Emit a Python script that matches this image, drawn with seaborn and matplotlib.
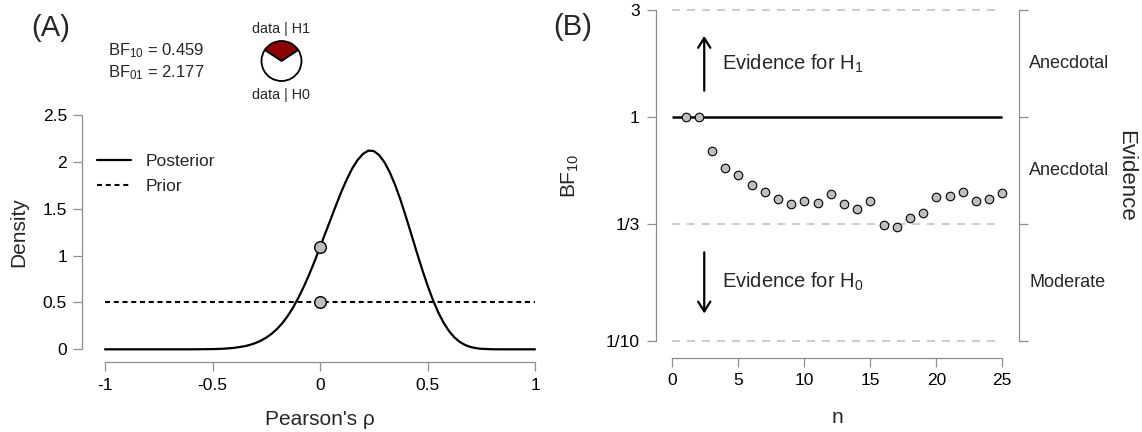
import numpy as np
import pandas as pd
import matplotlib
matplotlib.use("Agg")
import matplotlib.pyplot as plt
import matplotlib.transforms as mtrans
from matplotlib.ticker import NullLocator
import seaborn as sns

# ---------------- Panel A data ----------------
rho = [-1.0, -0.9, -0.8, -0.7, -0.6, -0.5, -0.45, -0.4,
       -0.35, -0.325, -0.3, -0.275, -0.25, -0.225, -0.2, -0.175, -0.15,
       -0.125, -0.1, -0.075, -0.05, -0.025, 0.0, 0.025, 0.05, 0.075, 0.1,
       0.125, 0.15, 0.175, 0.2, 0.225, 0.25, 0.275, 0.3, 0.325, 0.35,
       0.375, 0.4, 0.425, 0.45, 0.475, 0.5, 0.525, 0.55, 0.575, 0.6,
       0.625, 0.65, 0.675, 0.7, 0.725, 0.75, 0.8, 0.85, 0.9, 1.0]
posterior_density = [0.0, 0.0, 0.0, 0.0, 0.0001, 0.0024, 0.0063, 0.0153,
                     0.0334, 0.0478, 0.0671, 0.0925, 0.125, 0.166, 0.217, 0.279, 0.356,
                     0.447, 0.553, 0.670, 0.800, 0.940, 1.090, 1.240, 1.390, 1.540, 1.685,
                     1.815, 1.930, 2.020, 2.085, 2.120, 2.115, 2.072, 1.995, 1.886, 1.750,
                     1.590, 1.412, 1.225, 1.036, 0.854, 0.683, 0.528, 0.394, 0.283, 0.195,
                     0.127, 0.079, 0.046, 0.025, 0.0124, 0.0056, 0.0008, 0.0001, 0.0, 0.0]
prior_rho = [-1.0, 1.0]
prior_density = [0.5, 0.5]
point_rho = [0.0, 0.0]
point_density = [1.09, 0.5]
bf10 = 0.459
bf01 = 2.177
a_xticks = [-1, -0.5, 0, 0.5, 1]
a_xticklabels = ["-1", "-0.5", "0", "0.5", "1"]
a_yticks = [0, 0.5, 1, 1.5, 2, 2.5]
a_yticklabels = ["0", "0.5", "1", "1.5", "2", "2.5"]

# ---------------- Panel B data ----------------
n_obs = list(range(1, 26))
bf_seq = [1.0, 1.0, 0.702, 0.589, 0.552, 0.495, 0.462, 0.430, 0.408, 0.4225,
          0.411, 0.452, 0.408, 0.389, 0.4225, 0.328, 0.324, 0.355, 0.371, 0.440,
          0.443, 0.464, 0.421, 0.428, 0.459]
n_range = [0, 25]
bf_ticks = [1 / 10, 1 / 3, 1, 3]
bf_ticklabels = ["1/10", "1/3", "1", "3"]
n_ticks = [0, 5, 10, 15, 20, 25]
evidence_labels = ["Moderate", "Anecdotal", "Anecdotal"]  # bottom to top

# ---------------- style ----------------
sns.set_theme(style="white")
plt.rcParams["font.family"] = ["Liberation Sans", "DejaVu Sans"]
plt.rcParams["mathtext.default"] = "regular"
GRAY = "#8f8f8f"

W, H = 1142, 432
fig = plt.figure(figsize=(W / 100, H / 100), dpi=100)


def px_axes(left, right, top, bottom):
    return fig.add_axes([left / W, 1 - bottom / H, (right - left) / W, (bottom - top) / H])


def style_axis(ax, left=True, bottom=True, right=False):
    for s in ax.spines.values():
        s.set_color(GRAY)
        s.set_linewidth(0.9)
    ax.tick_params(axis="both", which="major", direction="out", length=6.5, width=0.9,
                   color=GRAY, labelsize=12.5, labelcolor="black",
                   left=left, bottom=bottom, right=right, top=False)


# ================= Panel A =================
axA = px_axes(87.8, 552.2, 105.6, 358.7)
sns.lineplot(x=rho, y=posterior_density, ax=axA, color="black", linewidth=1.6,
             estimator=None, label="Posterior")
sns.lineplot(x=prior_rho, y=prior_density, ax=axA, color="black", linewidth=1.5,
             estimator=None, linestyle=(0, (2.4, 1.8)), label="Prior")
sns.scatterplot(x=point_rho, y=point_density, ax=axA, color="#bebebe",
                edgecolor="black", s=70, linewidth=1.0, zorder=5, legend=False)
axA.set_xlim(-1.08, 1.08)
axA.set_ylim(-0.1, 2.6)
axA.set_xticks(a_xticks, a_xticklabels)
axA.set_yticks(a_yticks, a_yticklabels)
style_axis(axA)
axA.tick_params(axis="y", pad=4.5)
axA.tick_params(axis="x", pad=5)
axA.spines["top"].set_visible(False)
axA.spines["right"].set_visible(False)
axA.spines["left"].set_position(("outward", 4))
axA.spines["left"].set_bounds(0, 2.5)
axA.spines["bottom"].set_position(("outward", 2.2))
axA.spines["bottom"].set_bounds(-1, 1)
axA.set_xlabel("Pearson's ρ", fontsize=15, va="baseline")
axA.xaxis.set_label_coords(0.5, -0.262)
axA.set_ylabel("Density", fontsize=15, va="center")
axA.yaxis.set_label_coords(-0.1477, 0.5)
axA.legend(loc="upper left", bbox_to_anchor=(0.0192, 0.8103), frameon=False,
           fontsize=12.5, handlelength=2.0, handletextpad=0.8, labelspacing=0.6,
           borderpad=0, borderaxespad=0)

# BF text
fig.text(108.3 / W, 1 - 55 / H, f"BF$_{{10}}$ = {bf10:.3f}", fontsize=12, va="baseline")
fig.text(108.3 / W, 1 - 77.3 / H, f"BF$_{{01}}$ = {bf01:.3f}", fontsize=12, va="baseline")

# pie
axP = px_axes(260.5, 302.5, 40.0, 82.0)
p_h1 = bf10 / (1 + bf10)
axP.pie([p_h1, 1 - p_h1], colors=["#8b0000", "white"], startangle=90 - p_h1 * 180,
        counterclock=True, wedgeprops=dict(edgecolor="black", linewidth=1.3))
axP.set_xlim(-1.05, 1.05)
axP.set_ylim(-1.05, 1.05)
axP.set_aspect("equal")
axP.axis("off")
fig.text(281 / W, 1 - 29.3 / H, "data | H1", fontsize=10.4, ha="center", va="center")
fig.text(281 / W, 1 - 95 / H, "data | H0", fontsize=10.4, ha="center", va="center")

fig.text(31.7 / W, 1 - 28 / H, "(A)", fontsize=21, va="center", ha="left")

# ================= Panel B =================
axB = px_axes(659.1, 1015.5, 10.3, 340.7)
axB.set_yscale("log")
axB.set_xlim(-1, 26)
axB.set_ylim(bf_ticks[0], bf_ticks[-1])
axB.hlines([v for v in bf_ticks if v != 1], n_range[0], n_range[1], colors="#c4c4c4",
           linewidth=1.2, linestyles=[(0, (4.8, 4.2))], clip_on=False, zorder=1)
axB.hlines([1], n_range[0], n_range[1], colors="black", linewidth=1.8, zorder=2)
sns.scatterplot(x=n_obs, y=bf_seq, ax=axB, color="#bebebe", edgecolor="black",
                s=38, linewidth=0.8, zorder=5, legend=False, clip_on=False)
axB.set_yticks(bf_ticks, bf_ticklabels)
axB.yaxis.set_minor_locator(NullLocator())
axB.set_xticks(n_ticks, [str(t) for t in n_ticks])
style_axis(axB)
axB.tick_params(axis="y", pad=5)
axB.tick_params(axis="x", pad=4.5)
axB.spines["top"].set_visible(False)
axB.spines["right"].set_visible(False)
axB.spines["left"].set_position(("outward", 2.4))
axB.spines["left"].set_bounds(bf_ticks[0], bf_ticks[-1])
axB.spines["bottom"].set_position(("outward", 12.2))
axB.spines["bottom"].set_bounds(n_range[0], n_range[1])
axB.set_xlabel("n", fontsize=15, va="baseline")
axB.xaxis.set_label_coords(0.5, -0.25)
axB.set_ylabel("BF$_{10}$", fontsize=15, va="center")
axB.yaxis.set_label_coords(-0.248, 0.5)

# right evidence axis
axR = axB.twinx()
axR.set_yscale("log")
axR.set_ylim(axB.get_ylim())
axR.set_yticks(bf_ticks, [""] * len(bf_ticks))
axR.yaxis.set_minor_locator(NullLocator())
style_axis(axR, left=False, bottom=False, right=True)
for s in ["top", "left", "bottom"]:
    axR.spines[s].set_visible(False)
axR.spines["right"].set_position(("outward", 2.5))
axR.spines["right"].set_bounds(bf_ticks[0], bf_ticks[-1])
axR.set_ylabel("Evidence", fontsize=16, rotation=270, va="center")
axR.yaxis.set_label_coords(1.310, 0.5)

blend = mtrans.blended_transform_factory(axB.transAxes, axB.transData)
for lo, hi, lab in zip(bf_ticks[:-1], bf_ticks[1:], evidence_labels):
    axB.text(1.0379, np.sqrt(lo * hi), lab, transform=blend, fontsize=13,
             ha="left", va="center")

# arrows and evidence texts
arrow_kw = dict(arrowstyle="->,head_length=0.35,head_width=0.22", lw=1.6, color="black",
                shrinkA=0, shrinkB=0, mutation_scale=20)
axB.annotate("", xy=(2.42, 2.303), xytext=(2.42, 1.311), arrowprops=arrow_kw)
axB.annotate("", xy=(2.42, 0.1324), xytext=(2.42, 0.2483), arrowprops=arrow_kw)
axB.text(3.79, np.sqrt(bf_ticks[2] * bf_ticks[3]), "Evidence for H$_1$", fontsize=14.5,
         ha="left", va="center")
axB.text(3.79, np.sqrt(bf_ticks[0] * bf_ticks[1]), "Evidence for H$_0$", fontsize=14.5,
         ha="left", va="center")

fig.text(553 / W, 1 - 26.7 / H, "(B)", fontsize=21, va="center", ha="left")

fig.savefig("out.png", dpi=100)
